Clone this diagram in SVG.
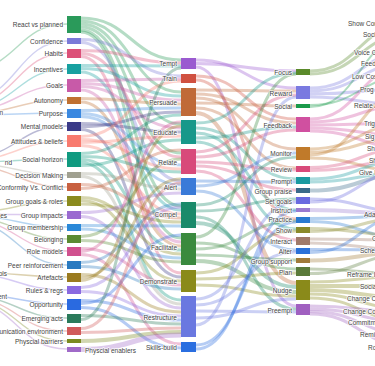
<svg xmlns="http://www.w3.org/2000/svg" width="375" height="366" viewBox="0 0 375 366">
<style>
text{font-family:"Liberation Sans",Arial,sans-serif;font-size:6.5px;fill:#444;dominant-baseline:central;stroke:#fff;stroke-width:1.5px;stroke-opacity:.85;paint-order:stroke;stroke-linejoin:round}
.e{text-anchor:end}
#links path{fill:none;stroke-opacity:.35}
#links .thin path{stroke-width:1.4px}
.nd rect{stroke:none}
.a1{fill:#2a9a5a;stroke:#2a9a5a}.a2{fill:#7a7ad8;stroke:#7a7ad8}.a3{fill:#dc5078;stroke:#dc5078}.a4{fill:#17a0a0;stroke:#17a0a0}.a5{fill:#c85aa8;stroke:#c85aa8}
.a6{fill:#c07030;stroke:#c07030}.a7{fill:#3a88e0;stroke:#3a88e0}.a8{fill:#3a3a88;stroke:#3a3a88}.a9{fill:#f87a6e;stroke:#f87a6e}.a10{fill:#109a80;stroke:#109a80}
.a11{fill:#a0a090;stroke:#a0a090}.a12{fill:#c86040;stroke:#c86040}.a13{fill:#8a8a1e;stroke:#8a8a1e}.a14{fill:#9a6ad0;stroke:#9a6ad0}.a15{fill:#2a88d8;stroke:#2a88d8}
.a16{fill:#5a8a32;stroke:#5a8a32}.a17{fill:#d0508e;stroke:#d0508e}.a18{fill:#2a7ac0;stroke:#2a7ac0}.a19{fill:#9a7a1e;stroke:#9a7a1e}.a20{fill:#8a6ae0;stroke:#8a6ae0}
.a21{fill:#2a6ae0;stroke:#2a6ae0}.a22{fill:#2a7a5a;stroke:#2a7a5a}.a23{fill:#d05a5a;stroke:#d05a5a}.a24{fill:#7a8a20;stroke:#7a8a20}.a25{fill:#a06ac8;stroke:#a06ac8}
.b1{fill:#9a5ad0;stroke:#9a5ad0}.b2{fill:#d05040;stroke:#d05040}.b3{fill:#c06a38;stroke:#c06a38}.b4{fill:#18988a;stroke:#18988a}.b5{fill:#d84a7a;stroke:#d84a7a}
.b6{fill:#3a7ad8;stroke:#3a7ad8}.b7{fill:#1a8a6a;stroke:#1a8a6a}.b8{fill:#3a8a3e;stroke:#3a8a3e}.b9{fill:#8a8a1a;stroke:#8a8a1a}.b10{fill:#6a78e0;stroke:#6a78e0}.b11{fill:#2a6ee0;stroke:#2a6ee0}
.c1{fill:#5a8a2a;stroke:#5a8a2a}.c2{fill:#7a7ae0;stroke:#7a7ae0}.c3{fill:#1a9a4a;stroke:#1a9a4a}.c4{fill:#d050a0;stroke:#d050a0}.c5{fill:#c07a2a;stroke:#c07a2a}
.c6{fill:#d84a7a;stroke:#d84a7a}.c7{fill:#1a9aa0;stroke:#1a9aa0}.c8{fill:#3a6a8a;stroke:#3a6a8a}.c9{fill:#6a6ae0;stroke:#6a6ae0}.c10{fill:#9a7ad0;stroke:#9a7ad0}
.c11{fill:#2a7ad0;stroke:#2a7ad0}.c12{fill:#8a8a2a;stroke:#8a8a2a}.c13{fill:#a07a6a;stroke:#a07a6a}.c14{fill:#2a70d8;stroke:#2a70d8}.c15{fill:#a07a3a;stroke:#a07a3a}
.c16{fill:#5a7a3a;stroke:#5a7a3a}.c17{fill:#8a8a1a;stroke:#8a8a1a}.c18{fill:#a060c0;stroke:#a060c0}
</style>
<g id="links">
<g class="thin">
<path class="a1" d="M-33 70C17 70 17 24 67 24"/>
<path class="a2" d="M-33 100C17 100 17 41 67 41"/>
<path class="a3" d="M-33 104C17 104 17 53 67 53"/>
<path class="a4" d="M-33 108C17 108 17 69 67 69"/>
<path class="a5" d="M-33 110C17 110 17 85 67 85"/>
<path class="a6" d="M-33 113C17 113 17 100 67 100"/>
<path class="a7" d="M-33 115C17 115 17 113 67 113"/>
<path class="a8" d="M-33 158C17 158 17 126 67 126"/>
<path class="a9" d="M-33 160C17 160 17 141 67 141"/>
<path class="a10" d="M-33 162C17 162 17 159 67 159"/>
<path class="a11" d="M-33 164C17 164 17 175 67 175"/>
<path class="a12" d="M-33 166C17 166 17 187 67 187"/>
<path class="a13" d="M-33 212C17 212 17 201 67 201"/>
<path class="a14" d="M-33 214C17 214 17 215 67 215"/>
<path class="a15" d="M-33 216C17 216 17 227 67 227"/>
<path class="a16" d="M-33 218C17 218 17 239 67 239"/>
<path class="a17" d="M-33 220C17 220 17 251 67 251"/>
<path class="a18" d="M-33 222C17 222 17 265 67 265"/>
<path class="a19" d="M-33 272C17 272 17 277 67 277"/>
<path class="a20" d="M-33 274C17 274 17 290 67 290"/>
<path class="a21" d="M-33 294C17 294 17 304 67 304"/>
<path class="a22" d="M-33 296C17 296 17 318 67 318"/>
<path class="a23" d="M-33 298C17 298 17 331 67 331"/>
<path class="a24" d="M-33 300C17 300 17 341 67 341"/>
<path class="a25" d="M-33 302C17 302 17 349 67 349"/>
</g>
<g stroke-width="3">
<path class="a1" d="M81 18C131 18 131 60 181 60"/>
<path class="a1" d="M81 21C131 21 131 92 181 92"/>
<path class="a1" d="M81 24C131 24 131 124 181 124"/>
<path class="a1" d="M81 27C131 27 131 153 181 153"/>
<path class="a1" d="M81 30C131 30 131 206 181 206"/>
<path class="a1" d="M81 32C131 32 131 238 181 238"/>
<path class="a2" d="M81 39.5C131 39.5 131 76 181 76"/>
<path class="a2" d="M81 42.5C131 42.5 131 181 181 181"/>
<path class="a3" d="M81 50.5C131 50.5 131 63 181 63"/>
<path class="a3" d="M81 53.5C131 53.5 131 157 181 157"/>
<path class="a3" d="M81 56.5C131 56.5 131 273 181 273"/>
<path class="a4" d="M81 65.5C131 65.5 131 66 181 66"/>
<path class="a4" d="M81 68.5C131 68.5 131 96 181 96"/>
<path class="a4" d="M81 72C131 72 131 210 181 210"/>
<path class="a5" d="M81 80.5C131 80.5 131 79 181 79"/>
<path class="a5" d="M81 83.5C131 83.5 131 100 181 100"/>
<path class="a5" d="M81 86.5C131 86.5 131 128 181 128"/>
<path class="a5" d="M81 90C131 90 131 242 181 242"/>
<path class="a6" d="M81 98.5C131 98.5 131 104 181 104"/>
<path class="a6" d="M81 102C131 102 131 246 181 246"/>
<path class="a7" d="M81 110.5C131 110.5 131 108 181 108"/>
<path class="a7" d="M81 113.5C131 113.5 131 165 181 165"/>
<path class="a7" d="M81 116.5C131 116.5 131 185 181 185"/>
<path class="a8" d="M81 123.5C131 123.5 131 132 181 132"/>
<path class="a8" d="M81 126.5C131 126.5 131 112 181 112"/>
<path class="a8" d="M81 129.5C131 129.5 131 277 181 277"/>
<path class="a9" d="M81 136.5C131 136.5 131 81 181 81"/>
<path class="a9" d="M81 139.5C131 139.5 131 169 181 169"/>
<path class="a9" d="M81 142.5C131 142.5 131 136 181 136"/>
<path class="a9" d="M81 145.5C131 145.5 131 214 181 214"/>
<path class="a10" d="M81 153.5C131 153.5 131 115 181 115"/>
<path class="a10" d="M81 156.5C131 156.5 131 172 181 172"/>
<path class="a10" d="M81 159.5C131 159.5 131 250 181 250"/>
<path class="a10" d="M81 162.5C131 162.5 131 300 181 300"/>
<path class="a10" d="M81 165.5C131 165.5 131 140 181 140"/>
<path class="a11" d="M81 173.5C131 173.5 131 189 181 189"/>
<path class="a11" d="M81 176.5C131 176.5 131 304 181 304"/>
<path class="a12" d="M81 184.5C131 184.5 131 218 181 218"/>
<path class="a12" d="M81 188.5C131 188.5 131 150 181 150"/>
<path class="a13" d="M81 197.5C131 197.5 131 254 181 254"/>
<path class="a13" d="M81 200.5C131 200.5 131 281 181 281"/>
<path class="a13" d="M81 204C131 204 131 222 181 222"/>
<path class="a14" d="M81 212.5C131 212.5 131 193 181 193"/>
<path class="a14" d="M81 216.5C131 216.5 131 308 181 308"/>
<path class="a15" d="M81 225.5C131 225.5 131 226 181 226"/>
<path class="a15" d="M81 229C131 229 131 258 181 258"/>
<path class="a16" d="M81 236.5C131 236.5 131 159 181 159"/>
<path class="a16" d="M81 240.5C131 240.5 131 262 181 262"/>
<path class="a17" d="M81 248.5C131 248.5 131 285 181 285"/>
<path class="a17" d="M81 251.5C131 251.5 131 122 181 122"/>
<path class="a17" d="M81 254.5C131 254.5 131 344 181 344"/>
<path class="a18" d="M81 262.5C131 262.5 131 204 181 204"/>
<path class="a18" d="M81 266.5C131 266.5 131 289 181 289"/>
<path class="a19" d="M81 274.5C131 274.5 131 312 181 312"/>
<path class="a19" d="M81 277.5C131 277.5 131 179 181 179"/>
<path class="a19" d="M81 280.5C131 280.5 131 126 181 126"/>
<path class="a20" d="M81 287.5C131 287.5 131 207 181 207"/>
<path class="a20" d="M81 291.5C131 291.5 131 316 181 316"/>
<path class="a21" d="M81 300.5C131 300.5 131 320 181 320"/>
<path class="a21" d="M81 303.5C131 303.5 131 235 181 235"/>
<path class="a21" d="M81 307.5C131 307.5 131 348 181 348"/>
<path class="a22" d="M81 315.5C131 315.5 131 324 181 324"/>
<path class="a22" d="M81 319.5C131 319.5 131 68 181 68"/>
<path class="a23" d="M81 328.5C131 328.5 131 183 181 183"/>
<path class="a23" d="M81 332.5C131 332.5 131 328 181 328"/>
<path class="a24" d="M81 341C131 341 131 332 181 332" stroke-width="4"/>
<path class="a25" d="M81 349.5C131 349.5 131 335 181 335" stroke-width="5"/>
</g>
<g stroke-width="3">
<path class="b1" d="M196 60C246 60 246 88 296 88"/>
<path class="b1" d="M196 63.5C246 63.5 246 71 296 71"/>
<path class="b1" d="M196 67C246 67 246 306 296 306"/>
<path class="b2" d="M196 76C246 76 246 119 296 119"/>
<path class="b2" d="M196 80C246 80 246 219 296 219"/>
<path class="b3" d="M196 90C246 90 246 91 296 91"/>
<path class="b3" d="M196 94C246 94 246 123 296 123"/>
<path class="b3" d="M196 98C246 98 246 149 296 149"/>
<path class="b3" d="M196 103C246 103 246 106 296 106"/>
<path class="b3" d="M196 108C246 108 246 168 296 168"/>
<path class="b3" d="M196 113C246 113 246 283 296 283" stroke-width="4"/>
<path class="b4" d="M196 123C246 123 246 73 296 73"/>
<path class="b4" d="M196 128C246 128 246 179 296 179"/>
<path class="b4" d="M196 133C246 133 246 210 296 210"/>
<path class="b4" d="M196 138C246 138 246 127 296 127"/>
<path class="b4" d="M196 142C246 142 246 229 296 229"/>
<path class="b5" d="M196 152C246 152 246 95 296 95"/>
<path class="b5" d="M196 157C246 157 246 130 296 130"/>
<path class="b5" d="M196 162C246 162 246 170 296 170"/>
<path class="b5" d="M196 166C246 166 246 190 296 190"/>
<path class="b5" d="M196 171C246 171 246 240 296 240"/>
<path class="b6" d="M196 181C246 181 246 182 296 182"/>
<path class="b6" d="M196 186C246 186 246 153 296 153"/>
<path class="b6" d="M196 191C246 191 246 250 296 250"/>
<path class="b7" d="M196 205C246 205 246 157 296 157"/>
<path class="b7" d="M196 211C246 211 246 199 296 199"/>
<path class="b7" d="M196 217C246 217 246 309 296 309"/>
<path class="b7" d="M196 223C246 223 246 287 296 287" stroke-width="4"/>
<path class="b8" d="M196 237C246 237 246 74 296 74"/>
<path class="b8" d="M196 243C246 243 246 269 296 269"/>
<path class="b8" d="M196 249C246 249 246 221 296 221"/>
<path class="b8" d="M196 255C246 255 246 260 296 260"/>
<path class="b8" d="M196 261C246 261 246 292 296 292" stroke-width="4"/>
<path class="b9" d="M196 273C246 273 246 231 296 231"/>
<path class="b9" d="M196 279C246 279 246 273 296 273"/>
<path class="b9" d="M196 285C246 285 246 296 296 296"/>
<path class="b10" d="M196 299C246 299 246 202 296 202"/>
<path class="b10" d="M196 305C246 305 246 252 296 252"/>
<path class="b10" d="M196 311C246 311 246 312 296 312"/>
<path class="b10" d="M196 318C246 318 246 299 296 299"/>
<path class="b10" d="M196 325C246 325 246 97 296 97"/>
<path class="b11" d="M196 345C246 345 246 222 296 222"/>
<path class="b11" d="M196 349C246 349 246 211 296 211"/>
</g>
<g stroke-width="3">
<path class="c1" d="M310 71C360 71 360 23 410 23"/>
<path class="c1" d="M310 74C360 74 360 34 410 34"/>
<path class="c2" d="M310 88C360 88 360 52 410 52"/>
<path class="c2" d="M310 91C360 91 360 63 410 63"/>
<path class="c2" d="M310 94C360 94 360 89 410 89"/>
<path class="c2" d="M310 97C360 97 360 105 410 105"/>
<path class="c3" d="M310 105C360 105 360 76 410 76" stroke-width="2"/>
<path class="c3" d="M310 107C360 107 360 35 410 35" stroke-width="2"/>
<path class="c4" d="M310 119C360 119 360 64 410 64"/>
<path class="c4" d="M310 122C360 122 360 105 410 105"/>
<path class="c4" d="M310 125C360 125 360 123 410 123"/>
<path class="c4" d="M310 128C360 128 360 136 410 136"/>
<path class="c4" d="M310 131C360 131 360 148 410 148"/>
<path class="c5" d="M310 149C360 149 360 123 410 123"/>
<path class="c5" d="M310 152C360 152 360 137 410 137"/>
<path class="c5" d="M310 155C360 155 360 90 410 90"/>
<path class="c5" d="M310 158C360 158 360 172 410 172"/>
<path class="c6" d="M310 167.5C360 167.5 360 148 410 148"/>
<path class="c6" d="M310 170.5C360 170.5 360 160 410 160"/>
<path class="c7" d="M310 179C360 179 360 160 410 160"/>
<path class="c7" d="M310 182C360 182 360 172 410 172"/>
<path class="c8" d="M310 190.5C360 190.5 360 174 410 174" stroke-width="4"/>
<path class="c9" d="M310 199C360 199 360 212 410 212"/>
<path class="c9" d="M310 202C360 202 360 170 410 170"/>
<path class="c10" d="M310 210C360 210 360 214 410 214" stroke-width="4"/>
<path class="c11" d="M310 218.5C360 218.5 360 216 410 216"/>
<path class="c11" d="M310 221.5C360 221.5 360 238 410 238"/>
<path class="c12" d="M310 228.5C360 228.5 360 236 410 236"/>
<path class="c12" d="M310 231.5C360 231.5 360 218 410 218"/>
<path class="c13" d="M310 239C360 239 360 240 410 240"/>
<path class="c13" d="M310 243C360 243 360 250 410 250"/>
<path class="c14" d="M310 249.5C360 249.5 360 250 410 250"/>
<path class="c14" d="M310 252.5C360 252.5 360 215 410 215"/>
<path class="c15" d="M310 260.5C360 260.5 360 252 410 252" stroke-width="4"/>
<path class="c16" d="M310 269C360 269 360 274 410 274"/>
<path class="c16" d="M310 273.5C360 273.5 360 254 410 254"/>
<path class="c17" d="M310 282C360 282 360 276 410 276"/>
<path class="c17" d="M310 286C360 286 360 286 410 286" stroke-width="4"/>
<path class="c17" d="M310 290C360 290 360 298 410 298" stroke-width="4"/>
<path class="c17" d="M310 294C360 294 360 309 410 309"/>
<path class="c17" d="M310 298C360 298 360 321 410 321"/>
<path class="c18" d="M310 306C360 306 360 312 410 312"/>
<path class="c18" d="M310 309C360 309 360 322 410 322"/>
<path class="c18" d="M310 311.5C360 311.5 360 334 410 334"/>
<path class="c18" d="M310 314C360 314 360 346 410 346"/>
</g>
</g>
<g id="col-left-labels">
<text class="e" x="3" y="112">n</text>
<text class="e" x="12" y="162">nd</text>
<text class="e" x="7" y="215">es</text>
<text class="e" x="7" y="273">ols</text>
<text class="e" x="7" y="296">ent</text>
</g>
<g class="nd" id="n-react"><rect class="a1" x="67" y="16" width="14" height="17"/><text class="e" x="63" y="24.5">React vs planned</text></g>
<g class="nd" id="n-confidence"><rect class="a2" x="67" y="38" width="14" height="6"/><text class="e" x="63" y="41">Confidence</text></g>
<g class="nd" id="n-habits"><rect class="a3" x="67" y="49" width="14" height="9"/><text class="e" x="63" y="53.5">Habits</text></g>
<g class="nd" id="n-incentives"><rect class="a4" x="67" y="64" width="14" height="10"/><text class="e" x="63" y="69">Incentives</text></g>
<g class="nd" id="n-goals"><rect class="a5" x="67" y="79" width="14" height="13"/><text class="e" x="63" y="85.5">Goals</text></g>
<g class="nd" id="n-autonomy"><rect class="a6" x="67" y="97" width="14" height="7"/><text class="e" x="63" y="100.5">Autonomy</text></g>
<g class="nd" id="n-purpose"><rect class="a7" x="67" y="109" width="14" height="9"/><text class="e" x="63" y="113.5">Purpose</text></g>
<g class="nd" id="n-mental"><rect class="a8" x="67" y="122" width="14" height="9"/><text class="e" x="63" y="126.5">Mental models</text></g>
<g class="nd" id="n-attitudes"><rect class="a9" x="67" y="135" width="14" height="12"/><text class="e" x="63" y="141">Attitudes &amp; beliefs</text></g>
<g class="nd" id="n-social-horizon"><rect class="a10" x="67" y="152" width="14" height="15"/><text class="e" x="63" y="159.5">Social horizon</text></g>
<g class="nd" id="n-decision"><rect class="a11" x="67" y="172" width="14" height="6"/><text class="e" x="63" y="175">Decision Making</text></g>
<g class="nd" id="n-conformity"><rect class="a12" x="67" y="183" width="14" height="8"/><text class="e" x="63" y="187">Conformity Vs. Conflict</text></g>
<g class="nd" id="n-group-goals"><rect class="a13" x="67" y="196" width="14" height="10"/><text class="e" x="63" y="201">Group goals &amp; roles</text></g>
<g class="nd" id="n-group-impacts"><rect class="a14" x="67" y="211" width="14" height="8"/><text class="e" x="63" y="215">Group impacts</text></g>
<g class="nd" id="n-group-membership"><rect class="a15" x="67" y="224" width="14" height="7"/><text class="e" x="63" y="227.5">Group membership</text></g>
<g class="nd" id="n-belonging"><rect class="a16" x="67" y="235" width="14" height="8"/><text class="e" x="63" y="239">Belonging</text></g>
<g class="nd" id="n-role-models"><rect class="a17" x="67" y="247" width="14" height="9"/><text class="e" x="63" y="251.5">Role models</text></g>
<g class="nd" id="n-peer"><rect class="a18" x="67" y="261" width="14" height="8"/><text class="e" x="63" y="265">Peer reinforcement</text></g>
<g class="nd" id="n-artefacts"><rect class="a19" x="67" y="273" width="14" height="9"/><text class="e" x="63" y="277.5">Artefacts</text></g>
<g class="nd" id="n-rules"><rect class="a20" x="67" y="286" width="14" height="8"/><text class="e" x="63" y="290">Rules &amp; regs</text></g>
<g class="nd" id="n-opportunity"><rect class="a21" x="67" y="299" width="14" height="11"/><text class="e" x="63" y="304.5">Opportunity</text></g>
<g class="nd" id="n-emerging"><rect class="a22" x="67" y="314" width="14" height="9"/><text class="e" x="63" y="318.5">Emerging acts</text></g>
<g class="nd" id="n-comm-env"><rect class="a23" x="67" y="327" width="14" height="8"/><text class="e" x="63" y="331">Communication environment</text></g>
<g class="nd" id="n-phys-barriers"><rect class="a24" x="67" y="339" width="14" height="4"/><text class="e" x="63" y="341">Physcial barriers</text></g>
<g class="nd" id="n-phys-enablers"><rect class="a25" x="67" y="347" width="14" height="5"/><text x="85" y="350">Physcial enablers</text></g>
<g class="nd" id="n-tempt"><rect class="b1" x="181" y="58" width="15" height="11"/><text class="e" x="177" y="63.5">Tempt</text></g>
<g class="nd" id="n-train"><rect class="b2" x="181" y="74" width="15" height="9"/><text class="e" x="177" y="78.5">Train</text></g>
<g class="nd" id="n-persuade"><rect class="b3" x="181" y="88" width="15" height="28"/><text class="e" x="177" y="102.5">Persuade</text></g>
<g class="nd" id="n-educate"><rect class="b4" x="181" y="120" width="15" height="24"/><text class="e" x="177" y="132.5">Educate</text></g>
<g class="nd" id="n-relate"><rect class="b5" x="181" y="149" width="15" height="25"/><text class="e" x="177" y="162">Relate</text></g>
<g class="nd" id="n-alert"><rect class="b6" x="181" y="178" width="15" height="17"/><text class="e" x="177" y="187.5">Alert</text></g>
<g class="nd" id="n-compel"><rect class="b7" x="181" y="202" width="15" height="26"/><text class="e" x="177" y="214.5">Compel</text></g>
<g class="nd" id="n-facilitate"><rect class="b8" x="181" y="233" width="15" height="32"/><text class="e" x="177" y="247.5">Facilitate</text></g>
<g class="nd" id="n-demonstrate"><rect class="b9" x="181" y="270" width="15" height="22"/><text class="e" x="177" y="281.5">Demonstrate</text></g>
<g class="nd" id="n-restructure"><rect class="b10" x="181" y="296" width="15" height="41"/><text class="e" x="177" y="317">Restructure</text></g>
<g class="nd" id="n-skills"><rect class="b11" x="181" y="342" width="15" height="10"/><text class="e" x="177" y="347">Skills-build</text></g>
<g class="nd" id="n-focus"><rect class="c1" x="296" y="69" width="14" height="6"/><text class="e" x="292" y="72">Focus</text></g>
<g class="nd" id="n-reward"><rect class="c2" x="296" y="86" width="14" height="13"/><text class="e" x="292" y="93">Reward</text></g>
<g class="nd" id="n-social"><rect class="c3" x="296" y="104" width="14" height="4"/><text class="e" x="292" y="106">Social</text></g>
<g class="nd" id="n-feedback"><rect class="c4" x="296" y="117" width="14" height="15"/><text class="e" x="292" y="125">Feedback</text></g>
<g class="nd" id="n-monitor"><rect class="c5" x="296" y="147" width="14" height="13"/><text class="e" x="292" y="153.5">Monitor</text></g>
<g class="nd" id="n-review"><rect class="c6" x="296" y="166" width="14" height="6"/><text class="e" x="292" y="169">Review</text></g>
<g class="nd" id="n-prompt"><rect class="c7" x="296" y="177" width="14" height="7"/><text class="e" x="292" y="181">Prompt</text></g>
<g class="nd" id="n-group-praise"><rect class="c8" x="296" y="188" width="14" height="5"/><text class="e" x="292" y="191">Group praise</text></g>
<g class="nd" id="n-set-goals"><rect class="c9" x="296" y="197" width="14" height="7"/><text class="e" x="292" y="201">Set goals</text></g>
<g class="nd" id="n-instruct"><rect class="c10" x="296" y="208" width="14" height="4"/><text class="e" x="292" y="210">Instruct</text></g>
<g class="nd" id="n-practice"><rect class="c11" x="296" y="217" width="14" height="6"/><text class="e" x="292" y="219.5">Practice</text></g>
<g class="nd" id="n-show"><rect class="c12" x="296" y="227" width="14" height="6"/><text class="e" x="292" y="230">Show</text></g>
<g class="nd" id="n-interact"><rect class="c13" x="296" y="237" width="14" height="8"/><text class="e" x="292" y="241">Interact</text></g>
<g class="nd" id="n-alter"><rect class="c14" x="296" y="248" width="14" height="6"/><text class="e" x="292" y="251.5">Alter</text></g>
<g class="nd" id="n-group-support"><rect class="c15" x="296" y="258" width="14" height="5"/><text class="e" x="292" y="261">Group support</text></g>
<g class="nd" id="n-plan"><rect class="c16" x="296" y="267" width="14" height="9"/><text class="e" x="292" y="272">Plan</text></g>
<g class="nd" id="n-nudge"><rect class="c17" x="296" y="280" width="14" height="20"/><text class="e" x="292" y="290.5">Nudge</text></g>
<g class="nd" id="n-preempt"><rect class="c18" x="296" y="304" width="14" height="11"/><text class="e" x="292" y="310">Preempt</text></g>
<g id="col-right-labels">
<text x="348" y="23">Show Cor</text>
<text x="363" y="34">Soci</text>
<text x="354" y="52">Voice C</text>
<text x="361" y="63">Feed</text>
<text x="352" y="76">Low Cos</text>
<text x="360" y="89">Prog</text>
<text x="354" y="105">Relate A</text>
<text x="364" y="123">Trig</text>
<text x="365" y="136">Sig</text>
<text x="367" y="148">Sh</text>
<text x="369" y="160">Sh</text>
<text x="359" y="172">Give I</text>
<text x="364" y="214">Ada</text>
<text x="372" y="238">G</text>
<text x="360" y="250">Sche</text>
<text x="347" y="274">Reframe I</text>
<text x="360" y="286">Socia</text>
<text x="347" y="298">Change Cl</text>
<text x="343" y="311">Change Con</text>
<text x="348" y="322">Commitm</text>
<text x="360" y="334">Remi</text>
<text x="368" y="347">Ro</text>
</g>
</svg>
